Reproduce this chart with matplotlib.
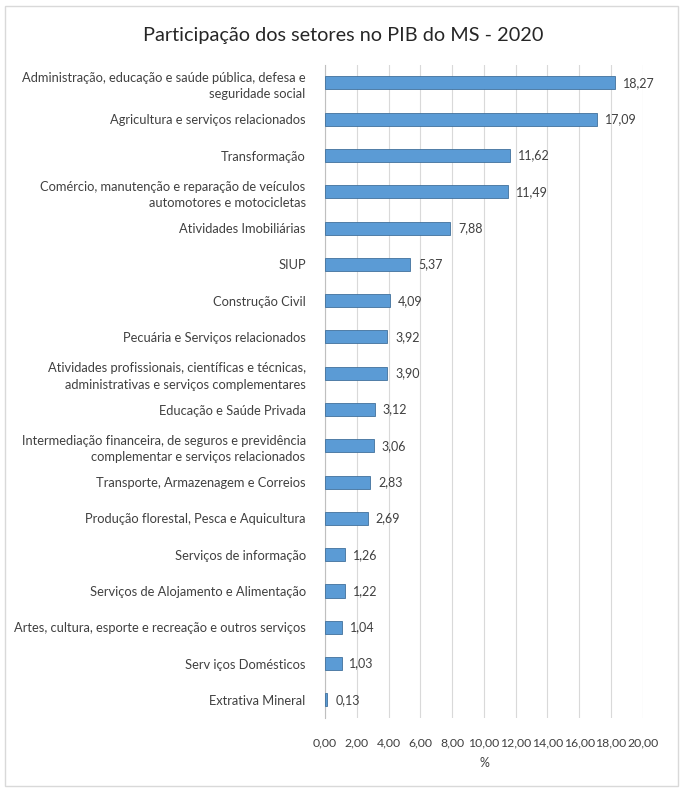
import matplotlib.pyplot as plt
from matplotlib.patches import Rectangle

plt.rcParams['font.family'] = ['Lato', 'DejaVu Sans']

# Setores e participação (%) no PIB do MS - 2020
setores = [
    "Administração, educação e saúde pública, defesa e\nseguridade social",
    "Agricultura e serviços relacionados",
    "Transformação",
    "Comércio, manutenção e reparação de veículos\nautomotores e motocicletas",
    "Atividades Imobiliárias",
    "SIUP",
    "Construção Civil",
    "Pecuária e Serviços relacionados",
    "Atividades profissionais, científicas e técnicas,\nadministrativas e serviços complementares",
    "Educação e Saúde Privada",
    "Intermediação financeira, de seguros e previdência\ncomplementar e serviços relacionados",
    "Transporte, Armazenagem e Correios",
    "Produção florestal, Pesca e Aquicultura",
    "Serviços de informação",
    "Serviços de Alojamento e Alimentação",
    "Artes, cultura, esporte e recreação e outros serviços",
    "Serv iços Domésticos",
    "Extrativa Mineral",
]
valores = [18.27, 17.09, 11.62, 11.49, 7.88, 5.37, 4.09, 3.92, 3.90,
           3.12, 3.06, 2.83, 2.69, 1.26, 1.22, 1.04, 1.03, 0.13]
ticks = [0, 2, 4, 6, 8, 10, 12, 14, 16, 18, 20]

def br(v):
    return f"{v:.2f}".replace(".", ",")

fig = plt.figure(figsize=(6.86, 8), dpi=100)
ax = fig.add_axes([0.474, 0.1025, 0.463, 0.8165])

# moldura externa
fig.patches.append(Rectangle((0.008, 0.018), 0.98, 0.975, transform=fig.transFigure,
                             fill=False, edgecolor='#d9d9d9', linewidth=1))

pos = list(range(len(setores)))
ax.barh(pos, valores, height=0.36, color='#5b9bd5', edgecolor='#41719c', linewidth=0.6, zorder=3)
for p, v in zip(pos, valores):
    ax.text(v + 0.5, p, br(v), va='center', ha='left', fontsize=9, color='#404040')

ax.set_ylim(len(setores) - 0.5, -0.5)
ax.set_xlim(0, 20)
ax.set_xticks(ticks)
ax.set_xticklabels([br(t) for t in ticks], fontsize=8.8, color='#404040')
ax.set_yticks(pos)
ax.set_yticklabels(setores, fontsize=9.3, color='#404040', linespacing=1.45)
ax.tick_params(axis='y', length=0, pad=14)
ax.tick_params(axis='x', length=0, pad=14)
ax.grid(axis='x', color='#d9d9d9', linewidth=0.8, zorder=0)
for s in ['top', 'right', 'bottom']:
    ax.spines[s].set_visible(False)
ax.spines['left'].set_color('#bfbfbf')
ax.set_xlabel('%', fontsize=9, color='#404040', labelpad=6)

fig.text(0.5, 0.955, 'Participação dos setores no PIB do MS - 2020', ha='center', va='center',
         fontsize=14.3, color='#262626')

fig.savefig('out.png', dpi=100)
